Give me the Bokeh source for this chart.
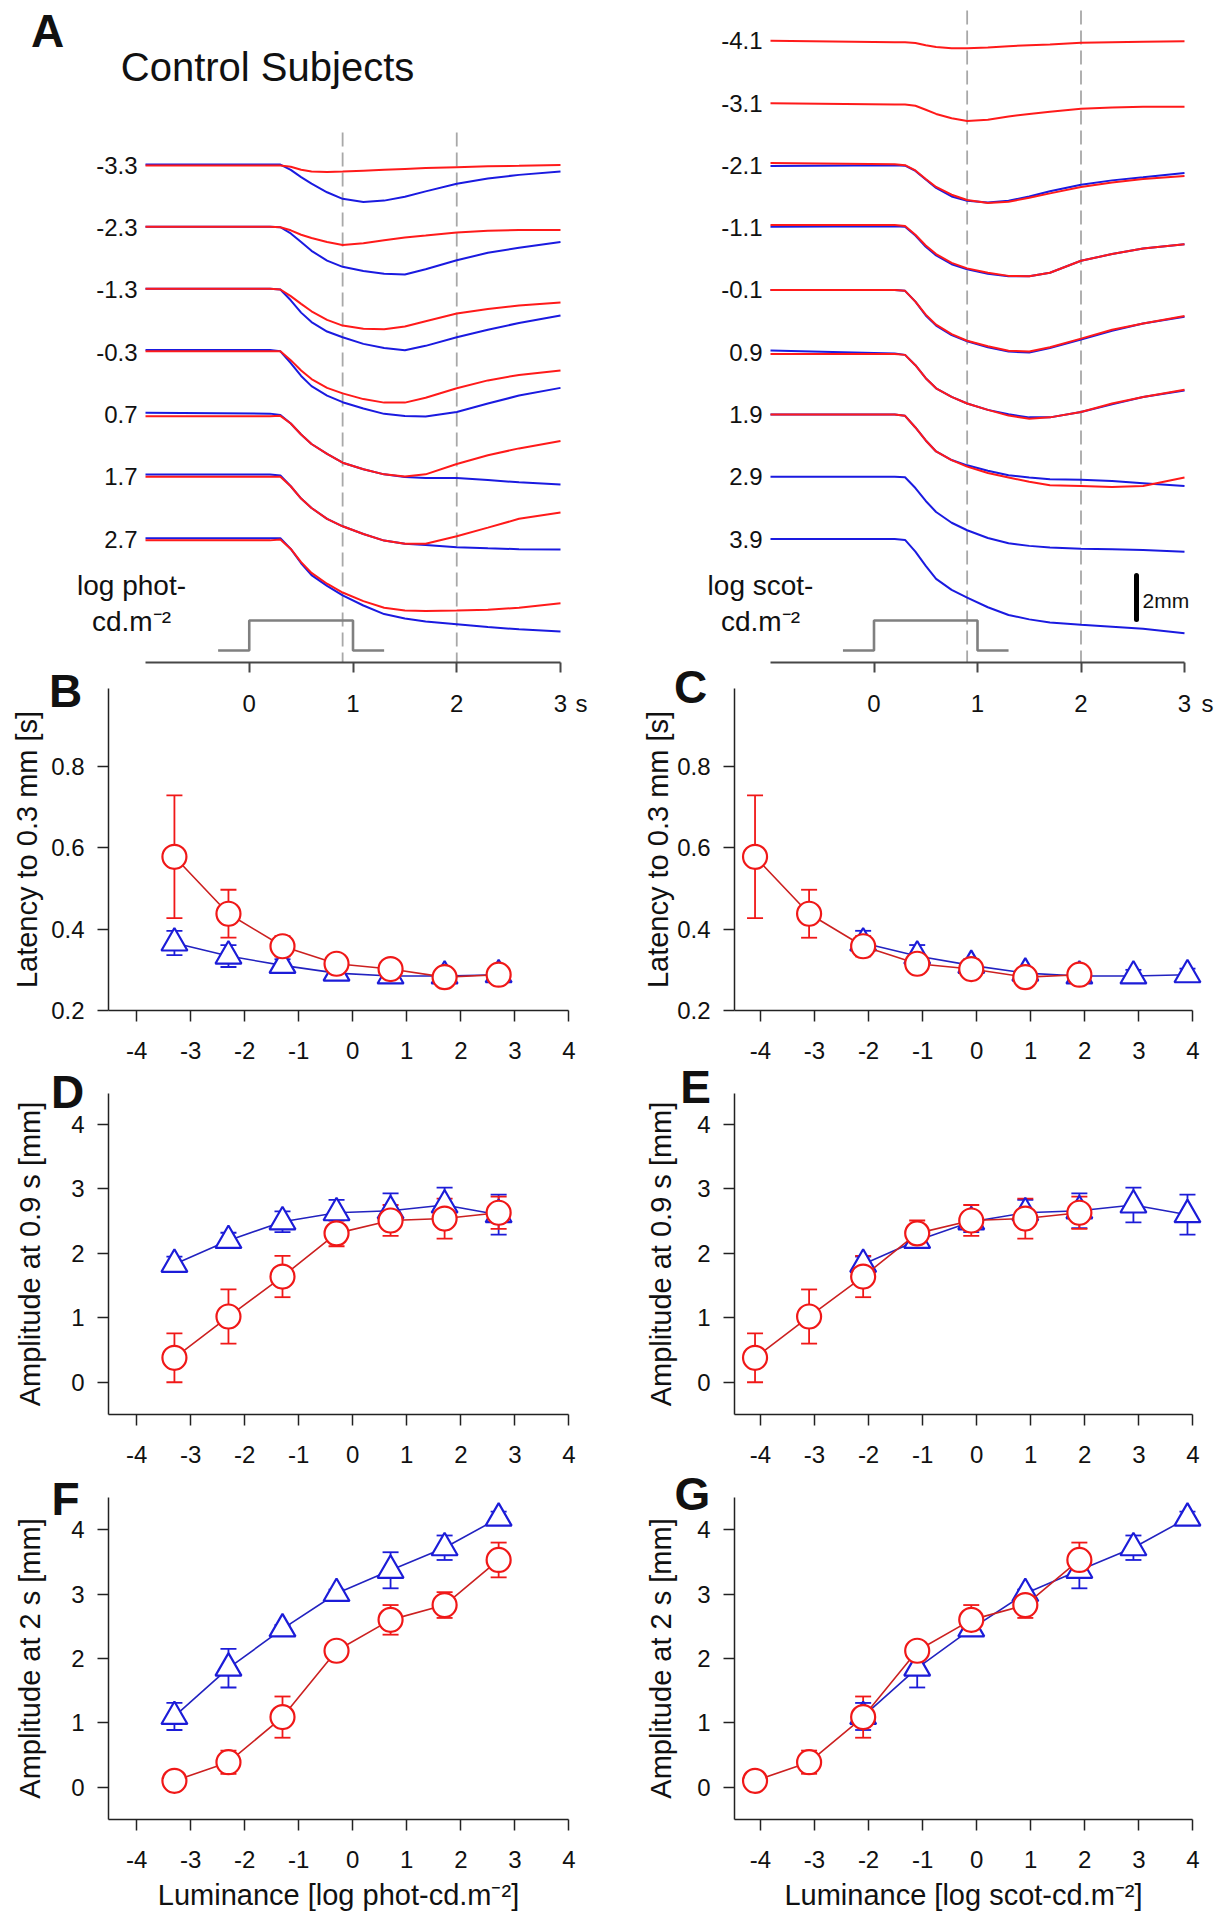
from bokeh.plotting import figure
from bokeh.layouts import row, column
from bokeh.models import (Label, FixedTicker, Whisker, ColumnDataSource, TeeHead,
                          PrintfTickFormatter, Range1d, LinearAxis)
from bokeh.embed import file_html
from bokeh.resources import INLINE

# ---------------- data ----------------
# time samples of the averaged pupil traces (s)
T = [-1.0, 0.2, 0.3, 0.4, 0.5, 0.6, 0.75, 0.9, 1.1, 1.3, 1.5, 1.7, 2.0, 2.3, 2.6, 3.0]

PHOT_LABELS = ["-3.3", "-2.3", "-1.3", "-0.3", "0.7", "1.7", "2.7"]
SCOT_LABELS = ["-4.1", "-3.1", "-2.1", "-1.1", "-0.1", "0.9", "1.9", "2.9", "3.9"]

# pupil deflection (mm), photopic-scaled panel
p_red_m33 = [0, 0, 0, -0.06, -0.2, -0.28, -0.3, -0.28, -0.24, -0.2, -0.16, -0.12, -0.08, -0.04, -0.02, 0.02]
p_red_m23 = [0.04, 0.04, 0.02, -0.12, -0.32, -0.47, -0.65, -0.79, -0.71, -0.57, -0.45, -0.36, -0.22, -0.14, -0.1, -0.1]
p_red_m13 = [0.06, 0.06, 0.02, -0.28, -0.63, -0.97, -1.36, -1.62, -1.76, -1.79, -1.66, -1.42, -1.07, -0.87, -0.71, -0.57]
p_red_m03 = [0.04, 0.04, 0.04, -0.36, -0.83, -1.22, -1.62, -1.87, -2.13, -2.29, -2.29, -2.07, -1.64, -1.28, -1.03, -0.83]
p_red_07 = [-0.08, -0.08, -0.06, -0.41, -0.91, -1.34, -1.79, -2.19, -2.49, -2.72, -2.82, -2.72, -2.25, -1.85, -1.54, -1.2]
p_red_17 = [0, 0, 0, -0.43, -0.99, -1.42, -1.91, -2.25, -2.6, -2.9, -3.04, -3.04, -2.7, -2.31, -1.91, -1.62]
p_red_27 = [-0.06, -0.06, -0.02, -0.45, -1.05, -1.54, -2.03, -2.43, -2.82, -3.12, -3.25, -3.27, -3.25, -3.21, -3.12, -2.92]

p_blue_m33 = [0.04, 0.04, 0.04, -0.2, -0.53, -0.83, -1.22, -1.52, -1.66, -1.6, -1.42, -1.18, -0.83, -0.59, -0.43, -0.28]
p_blue_m23 = [0.04, 0.04, 0.02, -0.26, -0.65, -1.05, -1.5, -1.78, -1.97, -2.09, -2.13, -1.89, -1.48, -1.14, -0.91, -0.65]
p_blue_m13 = [0.06, 0.06, 0.02, -0.47, -1.03, -1.46, -1.89, -2.15, -2.45, -2.64, -2.74, -2.54, -2.15, -1.81, -1.5, -1.16]
p_blue_m03 = [0.1, 0.1, 0.04, -0.49, -1.08, -1.54, -1.97, -2.27, -2.56, -2.8, -2.9, -2.92, -2.72, -2.33, -1.97, -1.62]
p_blue_07 = [0.08, 0.04, -0.02, -0.41, -0.91, -1.34, -1.79, -2.19, -2.49, -2.72, -2.84, -2.88, -2.88, -2.98, -3.08, -3.18]
p_blue_17 = [0.1, 0.1, 0.06, -0.43, -0.99, -1.42, -1.91, -2.25, -2.6, -2.9, -3.04, -3.1, -3.2, -3.25, -3.29, -3.31]
p_blue_27 = [0.04, 0.04, 0.04, -0.45, -1.1, -1.64, -2.13, -2.56, -3.02, -3.41, -3.61, -3.75, -3.87, -4.0, -4.1, -4.2]

# pupil deflection (mm), scotopic-scaled panel
s_red_m41 = [0, -0.06, -0.06, -0.1, -0.2, -0.28, -0.34, -0.34, -0.3, -0.24, -0.2, -0.16, -0.08, -0.06, -0.04, -0.02]
s_red_m31 = [0, -0.06, -0.06, -0.12, -0.3, -0.49, -0.69, -0.81, -0.75, -0.61, -0.49, -0.39, -0.26, -0.2, -0.16, -0.16]
s_red_m21 = [0.11, 0.05, 0.01, -0.23, -0.62, -0.98, -1.33, -1.57, -1.71, -1.65, -1.47, -1.27, -0.98, -0.78, -0.62, -0.48]
s_red_m11 = [0.12, 0.12, 0.08, -0.32, -0.81, -1.2, -1.6, -1.85, -2.05, -2.19, -2.21, -2.05, -1.5, -1.2, -0.95, -0.75]
s_red_m01 = [0, 0, -0.04, -0.53, -1.12, -1.58, -2.01, -2.31, -2.56, -2.76, -2.8, -2.6, -2.21, -1.81, -1.52, -1.18]
s_red_09 = [-0.08, -0.08, -0.12, -0.59, -1.18, -1.64, -2.03, -2.33, -2.62, -2.88, -3.02, -2.96, -2.72, -2.33, -2.03, -1.7]
s_red_19 = [0, 0, -0.06, -0.59, -1.18, -1.68, -2.07, -2.37, -2.66, -2.86, -3.06, -3.21, -3.25, -3.29, -3.25, -2.86]

s_blue_m21 = [-0.03, 0.01, -0.01, -0.25, -0.64, -1.02, -1.41, -1.61, -1.69, -1.61, -1.41, -1.17, -0.88, -0.68, -0.54, -0.35]
s_blue_m11 = [0.04, 0.06, 0.04, -0.36, -0.87, -1.26, -1.66, -1.89, -2.09, -2.21, -2.21, -2.05, -1.5, -1.2, -0.95, -0.75]
s_blue_m01 = [0, 0, -0.04, -0.53, -1.16, -1.62, -2.05, -2.33, -2.6, -2.8, -2.84, -2.64, -2.25, -1.85, -1.52, -1.22]
s_blue_09 = [0.08, -0.06, -0.12, -0.59, -1.18, -1.64, -2.03, -2.33, -2.62, -2.82, -2.96, -2.96, -2.72, -2.37, -2.03, -1.74]
s_blue_19 = [0, 0, -0.06, -0.59, -1.18, -1.68, -2.07, -2.31, -2.56, -2.76, -2.86, -2.94, -2.96, -3.02, -3.12, -3.25]
s_blue_29 = [0, 0, -0.02, -0.51, -1.1, -1.6, -2.09, -2.43, -2.78, -3.02, -3.14, -3.21, -3.27, -3.29, -3.33, -3.41]
s_blue_39 = [0, 0, -0.04, -0.57, -1.22, -1.81, -2.31, -2.66, -3.1, -3.45, -3.65, -3.79, -3.89, -3.98, -4.08, -4.28]

# stimulus (1 s light step) and the two measurement times
stim_t = [-0.3, 0.0, 0.0, 1.0, 1.0, 1.3]
stim_on = [0, 0, 1, 1, 0, 0]
mark_t = [0.9, 2.0]
time_ticks = [0, 1, 2, 3]
scale_mm = 2.0

# summary data
phot_red_x = [-3.3, -2.3, -1.3, -0.3, 0.7, 1.7, 2.7]
scot_red_x = [-4.1, -3.1, -2.1, -1.1, -0.1, 0.9, 1.9]
phot_blue_x = [-3.3, -2.3, -1.3, -0.3, 0.7, 1.7, 2.7]
scot_blue_x = [-2.1, -1.1, -0.1, 0.9, 1.9, 2.9, 3.9]

lat_red = [0.578, 0.438, 0.358, 0.315, 0.302, 0.282, 0.288]
lat_red_err = [0.151, 0.059, 0.025, 0.015, 0.012, 0.01, 0.01]
lat_blue = [0.366, 0.334, 0.311, 0.292, 0.285, 0.285, 0.288]
lat_blue_err = [0.03, 0.027, 0.015, 0.012, 0.01, 0.015, 0.015]

amp09_red = [0.38, 1.02, 1.64, 2.31, 2.51, 2.54, 2.63]
amp09_red_err = [0.38, 0.42, 0.32, 0.2, 0.24, 0.31, 0.25]
amp09_blue = [1.83, 2.2, 2.49, 2.63, 2.66, 2.75, 2.6]
amp09_blue_err = [0.12, 0.12, 0.16, 0.2, 0.27, 0.27, 0.31]

amp2_red = [0.1, 0.39, 1.09, 2.12, 2.6, 2.83, 3.53]
amp2_red_err = [0.03, 0.18, 0.32, 0.1, 0.23, 0.2, 0.27]
amp2_blue = [1.1, 1.85, 2.46, 3.01, 3.37, 3.72, 4.18]
amp2_blue_err = [0.21, 0.3, 0.06, 0.06, 0.28, 0.19, 0.1]

lum_ticks = [-4, -3, -2, -1, 0, 1, 2, 3, 4]
lat_ticks = [0.2, 0.4, 0.6, 0.8]
amp_ticks = [0, 1, 2, 3, 4]

# ---------------- style ----------------
FONT = "Liberation Sans"
RED = "#f01818"
BLUE = "#1c1cd8"
RED_LINE = "#cc2020"
BLUE_LINE = "#2222c0"
RED_TR = "#ff1a1a"
BLUE_TR = "#1a1ae0"
AX = "#222222"
LEVEL_MM = 2.83


class Frame:
    """Figure box (x0, y0, w, h) in page pixels and the axes box that maps to the axes ranges."""

    def __init__(self, x0, y0, w, h, al, at, ar, ab, xr, yr):
        self.x0, self.y0, self.w, self.h = x0, y0, w, h
        self.al, self.at, self.ar, self.ab = al, at, ar, ab
        self.xr, self.yr = xr, yr

    def dx(self, px):
        return self.xr[0] + (px - self.al) * (self.xr[1] - self.xr[0]) / (self.ar - self.al)

    def dy(self, py):
        return self.yr[1] - (py - self.at) * (self.yr[1] - self.yr[0]) / (self.ab - self.at)


def make_fig(g):
    p = figure(width=g.w, height=g.h,
               x_range=Range1d(g.dx(g.x0), g.dx(g.x0 + g.w)),
               y_range=Range1d(g.dy(g.y0 + g.h), g.dy(g.y0)),
               output_backend="svg", toolbar_location=None,
               x_axis_location=None, y_axis_location=None,
               min_border_left=0, min_border_right=0, min_border_top=0, min_border_bottom=0)
    p.outline_line_color = None
    p.xgrid.visible = False
    p.ygrid.visible = False
    p.background_fill_color = None
    p.border_fill_color = None
    return p


def style_axis(ax, color=AX, width=1.5, tick_out=11, standoff=13, size=24):
    ax.axis_line_color = color
    ax.axis_line_width = width
    ax.major_tick_line_color = color
    ax.major_tick_line_width = width
    ax.major_tick_out = tick_out
    ax.major_tick_in = 0
    ax.minor_tick_line_color = None
    ax.major_label_text_font = FONT
    ax.major_label_text_font_size = f"{size}px"
    ax.major_label_text_color = "#111111"
    ax.major_label_standoff = standoff
    ax.axis_label_text_font = FONT
    ax.axis_label_text_font_style = "normal"
    ax.axis_label_text_font_size = "29px"
    ax.axis_label_text_color = "#111111"


def label(p, g, text, px, py, size, align="center", bold=False):
    """Text whose visual centre line sits at page pixel row py."""
    p.add_layout(Label(x=g.dx(px), y=g.dy(py), text=text, text_font=FONT,
                       text_font_size=f"{size}px", text_align=align, text_baseline="middle",
                       text_font_style="bold" if bold else "normal", text_color="#111111"))


# ---------------- geometry (page pixels) ----------------
ROW2_TOP, ROW3_TOP, ROW4_TOP = 655, 1055, 1460
AL = Frame(0, 0, 618, 718, 145, 10, 560, 662, (-1, 3), (-28.25, 1.38))
AR = Frame(618, 0, 606, 718, 770, 10, 1184, 662, (-1, 3), (-28.25, 1.38))
GB = Frame(0, ROW2_TOP, 618, 1066 - ROW2_TOP, 108, 688, 590, 1010, (-4.52, 4.4), (0.2, 0.992))
GC = Frame(618, ROW2_TOP, 606, 1066 - ROW2_TOP, 734, 688, 1214, 1010, (-4.48, 4.4), (0.2, 0.992))
GD = Frame(0, ROW3_TOP, 618, 1469 - ROW3_TOP, 108, 1093, 590, 1414, (-4.52, 4.4), (-0.5, 4.48))
GE = Frame(618, ROW3_TOP, 606, 1469 - ROW3_TOP, 734, 1093, 1214, 1414, (-4.48, 4.4), (-0.5, 4.48))
GF = Frame(0, ROW4_TOP, 618, 1912 - ROW4_TOP, 108, 1497, 590, 1819, (-4.52, 4.4), (-0.5, 4.5))
GG = Frame(618, ROW4_TOP, 606, 1912 - ROW4_TOP, 734, 1497, 1214, 1819, (-4.48, 4.4), (-0.5, 4.5))


# ---------------- panel A ----------------
def trace_panel(g, red_traces, red_levels, blue_traces, blue_levels, labels, label_levels,
                dash_top_px, unit_text, unit_x, sx_offset):
    p = make_fig(g)
    ax = LinearAxis(fixed_location=g.yr[0], bounds=g.xr)
    style_axis(ax, color="#474747", width=2, tick_out=10, standoff=22, size=24)
    ax.ticker = FixedTicker(ticks=time_ticks)
    p.add_layout(ax, "below")

    top = g.dy(dash_top_px)
    bottom = g.yr[0]
    p.segment(x0=mark_t, y0=[top] * len(mark_t), x1=mark_t, y1=[bottom] * len(mark_t),
              line_color="#a8a8a8", line_width=1.8, line_dash="14 6")

    base = g.dy(650)
    hstep = g.dy(620) - base
    p.line(stim_t, [base + s * hstep for s in stim_on], line_color="#808080", line_width=2.6)

    for tr, lev in zip(blue_traces, blue_levels):
        p.line(T, [v - LEVEL_MM * lev for v in tr], line_color=BLUE_TR, line_width=2)
    for tr, lev in zip(red_traces, red_levels):
        p.line(T, [v - LEVEL_MM * lev for v in tr], line_color=RED_TR, line_width=2)

    for lab, lev in zip(labels, label_levels):
        p.add_layout(Label(x=g.xr[0], y=-LEVEL_MM * lev, x_offset=-8, text=lab, text_font=FONT,
                           text_font_size="24px", text_align="right", text_baseline="middle",
                           text_color="#111111"))
    # unit "s" after the last time tick
    p.add_layout(Label(x=time_ticks[-1], y=g.dy(703), x_offset=sx_offset, text="s", text_font=FONT,
                       text_font_size="24px", text_align="center", text_baseline="middle",
                       text_color="#111111"))
    label(p, g, unit_text, unit_x, 585, 28)
    label(p, g, "cd.m\u207b\u00b2", unit_x, 621, 28)
    return p


pAL = trace_panel(AL,
                  [p_red_m33, p_red_m23, p_red_m13, p_red_m03, p_red_07, p_red_17, p_red_27],
                  [2, 3, 4, 5, 6, 7, 8],
                  [p_blue_m33, p_blue_m23, p_blue_m13, p_blue_m03, p_blue_07, p_blue_17, p_blue_27],
                  [2, 3, 4, 5, 6, 7, 8],
                  PHOT_LABELS, [2, 3, 4, 5, 6, 7, 8], 132, "log phot-", 131, 21)
label(pAL, AL, "A", 47, 30, 46, bold=True)
label(pAL, AL, "Control Subjects", 267, 66, 40)

pAR = trace_panel(AR,
                  [s_red_m41, s_red_m31, s_red_m21, s_red_m11, s_red_m01, s_red_09, s_red_19],
                  [0, 1, 2, 3, 4, 5, 6],
                  [s_blue_m21, s_blue_m11, s_blue_m01, s_blue_09, s_blue_19, s_blue_29, s_blue_39],
                  [2, 3, 4, 5, 6, 7, 8],
                  SCOT_LABELS, list(range(9)), 10, "log scot-", 760, 23)
# 2 mm scale bar
sb_x = AR.dx(1136)
sb_top = AR.dy(575)
pAR.segment(x0=[sb_x], y0=[sb_top], x1=[sb_x], y1=[sb_top - scale_mm], line_color="#000000",
            line_width=5, line_cap="round")
label(pAR, AR, "2mm", 1142, 600, 21, align="left")


# ---------------- panels B-G ----------------
def summary_panel(g, red_x, red_y, red_e, blue_x, blue_y, blue_e, yticks, yfmt, ylabel,
                  ylab_standoff, letter, letter_xy, xlabel=None):
    p = make_fig(g)
    xa = LinearAxis(fixed_location=g.yr[0], bounds=(g.xr[0], lum_ticks[-1]))
    ya = LinearAxis(fixed_location=g.xr[0], bounds=g.yr)
    style_axis(xa, standoff=20)
    style_axis(ya, standoff=13)
    xa.ticker = FixedTicker(ticks=lum_ticks)
    xa.formatter = PrintfTickFormatter(format="%d")
    ya.ticker = FixedTicker(ticks=yticks)
    ya.formatter = PrintfTickFormatter(format=yfmt)
    ya.axis_label = ylabel
    ya.axis_label_standoff = ylab_standoff
    if xlabel:
        xa.axis_label = xlabel
        xa.axis_label_standoff = 8
    p.add_layout(xa, "below")
    p.add_layout(ya, "left")

    for xs, ys, es, col in ((blue_x, blue_y, blue_e, BLUE), (red_x, red_y, red_e, RED)):
        src = ColumnDataSource(dict(x=xs, lo=[y - e for y, e in zip(ys, es)],
                                    hi=[y + e for y, e in zip(ys, es)]))
        p.add_layout(Whisker(source=src, base="x", lower="lo", upper="hi", dimension="height",
                             line_color=col, line_width=1.8, level="underlay",
                             lower_head=TeeHead(size=16, line_color=col, line_width=1.8),
                             upper_head=TeeHead(size=16, line_color=col, line_width=1.8)))

    p.line(blue_x, blue_y, line_color=BLUE_LINE, line_width=1.6)
    p.scatter(blue_x, blue_y, marker="triangle", size=26, line_color=BLUE, fill_color="white",
              line_width=2.2)
    p.line(red_x, red_y, line_color=RED_LINE, line_width=1.6)
    p.scatter(red_x, red_y, marker="circle", size=24, line_color=RED, fill_color="white",
              line_width=2.2)

    label(p, g, letter, letter_xy[0], letter_xy[1], 46, bold=True)
    return p


pB = summary_panel(GB, phot_red_x, lat_red, lat_red_err, phot_blue_x, lat_blue, lat_blue_err,
                   lat_ticks, "%.1f", "Latency to 0.3 mm [s]", 5, "B", (65, 690))
pC = summary_panel(GC, scot_red_x, lat_red, lat_red_err, scot_blue_x, lat_blue, lat_blue_err,
                   lat_ticks, "%.1f", "Latency to 0.3 mm [s]", 0, "C", (690, 686))
pD = summary_panel(GD, phot_red_x, amp09_red, amp09_red_err, phot_blue_x, amp09_blue, amp09_blue_err,
                   amp_ticks, "%d", "Amplitude at 0.9 s [mm]", 22, "D", (67, 1091))
pE = summary_panel(GE, scot_red_x, amp09_red, amp09_red_err, scot_blue_x, amp09_blue, amp09_blue_err,
                   amp_ticks, "%d", "Amplitude at 0.9 s [mm]", 17, "E", (695, 1086))
pF = summary_panel(GF, phot_red_x, amp2_red, amp2_red_err, phot_blue_x, amp2_blue, amp2_blue_err,
                   amp_ticks, "%d", "Amplitude at 2 s [mm]", 22, "F", (65, 1498),
                   xlabel="Luminance [log phot-cd.m\u207b\u00b2]")
pG = summary_panel(GG, scot_red_x, amp2_red, amp2_red_err, scot_blue_x, amp2_blue, amp2_blue_err,
                   amp_ticks, "%d", "Amplitude at 2 s [mm]", 17, "G", (692, 1493),
                   xlabel="Luminance [log scot-cd.m\u207b\u00b2]")

layout = column(
    row(pAL, pAR),
    row(pB, pC, margin=(ROW2_TOP - AL.h, 0, 0, 0)),
    row(pD, pE, margin=(ROW3_TOP - (GB.y0 + GB.h), 0, 0, 0)),
    row(pF, pG, margin=(ROW4_TOP - (GD.y0 + GD.h), 0, 0, 0)),
)

open("out.html", "w").write(file_html(layout, INLINE, title="Pupil responses"))
